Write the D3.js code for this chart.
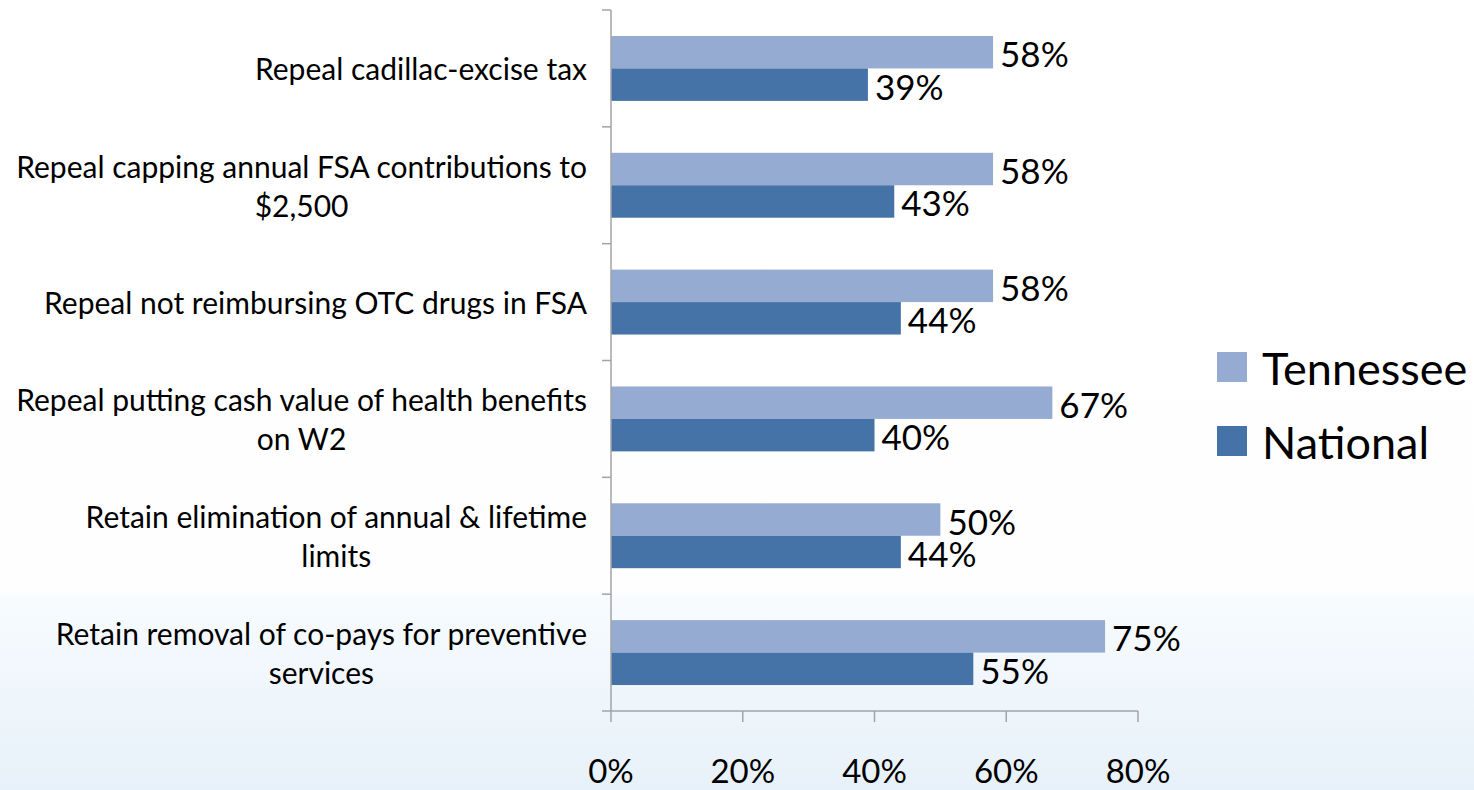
<!DOCTYPE html>
<html>
<head>
<meta charset="utf-8">
<script src="https://cdn.jsdelivr.net/npm/d3@7"></script>
<style>
  html, body { margin: 0; padding: 0; background: #fff; overflow: hidden; }
  svg { display: block; }
  text { font-family: Lato, "Open Sans", sans-serif; fill: #000; }
</style>
</head>
<body>
<svg id="chart" width="1474" height="790"></svg>
<script>
// Survey items, top to bottom (each entry is a list of wrapped lines)
const categories = [
  ["Repeal cadillac-excise tax"],
  ["Repeal capping annual FSA contributions to", "$2,500"],
  ["Repeal not reimbursing OTC drugs in FSA"],
  ["Repeal putting cash value of health benefits", "on W2"],
  ["Retain elimination of annual & lifetime", "limits"],
  ["Retain removal of co-pays for preventive", "services"]
];
const seriesNames = ["Tennessee", "National"];
const tennessee = [58, 58, 58, 67, 50, 75];
const national  = [39, 43, 44, 40, 44, 55];
const xTicks = [0, 20, 40, 60, 80];
const colors = ["#95abd2", "#4573a8"];

const svg = d3.select("#chart");
const W = 1474, H = 790;

// Background: white with a pale blue wash along the bottom
const defs = svg.append("defs");
const grad = defs.append("linearGradient")
  .attr("id", "bg").attr("x1", 0).attr("y1", 0).attr("x2", 0).attr("y2", 1);
grad.append("stop").attr("offset", "0%").attr("stop-color", "#ffffff");
grad.append("stop").attr("offset", "74.5%").attr("stop-color", "#fefefe");
grad.append("stop").attr("offset", "76%").attr("stop-color", "#f7fbfe");
grad.append("stop").attr("offset", "100%").attr("stop-color", "#e7f1f9");
svg.append("rect").attr("width", W).attr("height", H).attr("fill", "url(#bg)");

const plotL = 611, plotR = 1138, plotT = 10, plotB = 711;

const x = d3.scaleLinear().domain([0, 80]).range([plotL, plotR]);
const y = d3.scaleBand().domain(d3.range(categories.length)).range([plotT, plotB]).padding(0);
const ySub = d3.scaleBand().domain(seriesNames).range([0, y.bandwidth()])
  .paddingInner(0).paddingOuter(0.8);

const axisColor = "#a3a3a3";

// Bars
const rows = categories.map((c, i) => ({ i, values: [tennessee[i], national[i]] }));
const groups = svg.append("g").selectAll("g").data(rows).join("g")
  .attr("transform", d => `translate(0,${y(d.i)})`);

groups.selectAll("rect")
  .data(d => d.values.map((v, k) => ({ v, k })))
  .join("rect")
  .attr("x", x(0))
  .attr("y", d => ySub(seriesNames[d.k]))
  .attr("width", d => x(d.v) - x(0))
  .attr("height", ySub.bandwidth())
  .attr("fill", d => colors[d.k]);

// Value labels
groups.selectAll("text.val")
  .data(d => d.values.map((v, k) => ({ v, k })))
  .join("text")
  .attr("class", "val")
  .attr("x", d => x(d.v) + 7)
  .attr("y", d => ySub(seriesNames[d.k]) + ySub.bandwidth() / 2 + 1)
  .attr("dominant-baseline", "central")
  .style("font-size", "35px")
  .text(d => d.v + "%");

// Y axis (category ticks at band boundaries)
const yAxis = svg.append("g");
yAxis.append("line")
  .attr("x1", plotL).attr("x2", plotL).attr("y1", plotT).attr("y2", plotB)
  .attr("stroke", axisColor).attr("stroke-width", 1.5);
yAxis.selectAll("line.tick")
  .data(d3.range(categories.length + 1))
  .join("line")
  .attr("class", "tick")
  .attr("x1", plotL - 9).attr("x2", plotL)
  .attr("y1", d => plotT + d * y.step()).attr("y2", d => plotT + d * y.step())
  .attr("stroke", axisColor).attr("stroke-width", 1.5);

// Category labels: lines centred on each other, right edge against the axis
const labelRight = 587;
const lineGap = 39;
categories.forEach((lines, i) => {
  const cy = y(i) + y.bandwidth() / 2;
  const t = svg.append("text")
    .style("font-size", "30px")
    .attr("text-anchor", "middle")
    .attr("dominant-baseline", "central");
  lines.forEach((ln, j) => {
    t.append("tspan")
      .attr("x", 0)
      .attr("y", cy + (j - (lines.length - 1) / 2) * lineGap)
      .text(ln);
  });
  const w = d3.max(t.selectAll("tspan").nodes(), n => n.getComputedTextLength());
  t.selectAll("tspan").attr("x", labelRight - w / 2);
});

// X axis
const xAxis = svg.append("g");
xAxis.append("line")
  .attr("x1", plotL).attr("x2", plotR).attr("y1", plotB).attr("y2", plotB)
  .attr("stroke", axisColor).attr("stroke-width", 1.5);
xAxis.selectAll("line.tick").data(xTicks).join("line")
  .attr("class", "tick")
  .attr("x1", d => x(d)).attr("x2", d => x(d))
  .attr("y1", plotB).attr("y2", plotB + 11)
  .attr("stroke", axisColor).attr("stroke-width", 1.5);
xAxis.selectAll("text").data(xTicks).join("text")
  .attr("x", d => x(d))
  .attr("y", 770)
  .attr("text-anchor", "middle")
  .attr("dominant-baseline", "central")
  .style("font-size", "33px")
  .text(d => d + "%");

// Legend
const legend = svg.append("g");
const legendY = [367, 441];
seriesNames.forEach((name, k) => {
  legend.append("rect")
    .attr("x", 1217).attr("y", legendY[k] - 15)
    .attr("width", 30).attr("height", 30)
    .attr("fill", colors[k]);
  legend.append("text")
    .attr("x", 1262).attr("y", legendY[k] + 1)
    .attr("dominant-baseline", "central")
    .style("font-size", "45px")
    .text(name);
});
</script>
</body>
</html>
